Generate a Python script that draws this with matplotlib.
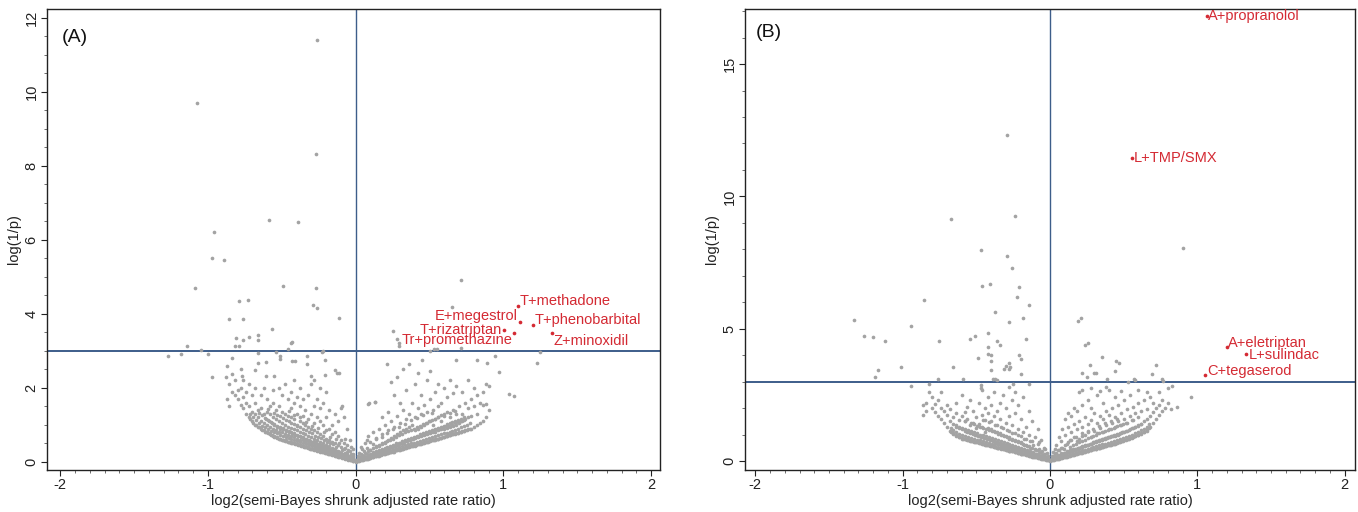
import numpy as np
import matplotlib
matplotlib.use("Agg")
import matplotlib.pyplot as plt
from matplotlib.ticker import MultipleLocator

plt.rcParams['font.family'] = ['Liberation Sans', 'DejaVu Sans']

# ---------------- Panel A data ----------------
a_gray_columns = [
    (-0.02, [0.02, 0.05, 0.1, 0.2, 0.35]), (-0.03, [0.04, 0.08]),
    (-0.04, [0.05, 0.1, 0.15, 0.3, 0.6]), (-0.05, [0.06, 0.12]),
    (-0.06, [0.07, 0.12, 0.2, 0.28, 0.45, 0.9]), (-0.07, [0.09, 0.16]),
    (-0.08, [0.1, 0.15, 0.22, 0.35, 0.5, 1.2]), (-0.09, [0.11, 0.2, 1.52]),
    (-0.10, [0.12, 0.18, 0.25, 0.4, 0.6, 1.45]), (-0.11, [0.13, 0.22, 2.41]),
    (-0.12, [0.14, 0.2, 0.3, 0.45, 0.7, 1.1]), (-0.13, [0.16, 0.27, 2.41]),
    (-0.14, [0.17, 0.23, 0.35, 0.5, 0.8, 1.3, 2.48]), (-0.15, [0.18, 0.3]),
    (-0.16, [0.19, 0.26, 0.38, 0.55, 0.75, 1.0]), (-0.17, [0.2, 0.33]),
    (-0.18, [0.21, 0.3, 0.42, 0.6, 0.9, 1.4]), (-0.19, [0.22, 0.36]),
    (-0.20, [0.23, 0.32, 0.45, 0.62, 0.85, 1.2, 1.9]), (-0.21, [0.25, 0.4, 2.76, 2.35]),
    (-0.22, [0.26, 0.35, 0.5, 0.7, 1.0, 1.6, 3.0]), (-0.23, [0.27, 0.42, 2.98]),
    (-0.24, [0.28, 0.38, 0.55, 0.75, 1.1, 1.45, 2.0]), (-0.25, [0.29, 0.46]),
    (-0.26, [0.3, 0.42, 0.6, 0.8, 1.2, 1.7]), (-0.27, [0.32, 0.5]),
    (-0.28, [0.33, 0.45, 0.62, 0.85, 1.05, 1.5, 2.2]), (-0.29, [0.34, 0.53]),
    (-0.30, [0.35, 0.48, 0.66, 0.9, 1.3, 2.1, 2.33]), (-0.31, [0.36, 0.56]),
    (-0.32, [0.37, 0.5, 0.7, 0.95, 1.15, 1.8]), (-0.33, [0.39, 0.6, 2.85, 2.64]),
    (-0.34, [0.4, 0.55, 0.75, 1.0, 1.4]), (-0.35, [0.41, 0.62]),
    (-0.36, [0.42, 0.58, 0.78, 1.05, 1.25, 1.7]), (-0.37, [0.44, 0.66]),
    (-0.38, [0.45, 0.6, 0.82, 1.1, 1.5, 2.0]), (-0.39, [0.46, 0.7]),
    (-0.40, [0.47, 0.63, 0.85, 1.0, 1.3, 1.75]), (-0.41, [0.49, 0.72, 2.72]),
    (-0.42, [0.5, 0.66, 0.9, 1.15, 1.6, 2.2]), (-0.43, [0.51, 0.76, 2.73, 3.23]),
    (-0.44, [0.52, 0.7, 0.92, 1.2, 1.45, 1.9]), (-0.45, [0.54, 0.8]),
    (-0.46, [0.55, 0.72, 0.95, 1.25, 1.7, 3.05]), (-0.47, [0.56, 0.84]),
    (-0.48, [0.57, 0.75, 1.0, 1.3, 2.1]), (-0.49, [0.59, 0.88]),
    (-0.50, [0.6, 0.8, 1.05, 1.35, 1.8]), (-0.51, [0.61, 0.9, 2.85, 2.79]),
    (-0.52, [0.62, 0.82, 1.1, 1.5, 2.0]), (-0.53, [0.64, 0.95]),
    (-0.54, [0.66, 0.86, 1.15, 1.4, 2.98]), (-0.55, [0.68, 1.0, 2.32]),
    (-0.56, [0.7, 0.9, 1.2, 1.6, 1.95]), (-0.57, [0.72, 1.05]),
    (-0.58, [0.74, 0.95, 1.3, 1.5]), (-0.59, [0.77, 1.1]),
    (-0.60, [0.8, 1.0, 1.35, 1.7]), (-0.61, [0.82, 1.15, 2.69, 2.32]),
    (-0.62, [0.85, 1.05, 1.3, 2.0]), (-0.64, [0.9, 1.1, 1.45, 1.8]),
    (-0.66, [0.95, 1.2, 1.4, 2.94, 2.68]), (-0.68, [1.0, 1.3, 1.6, 2.0, 2.47]),
    (-0.70, [1.1, 1.35, 1.8]), (-0.72, [1.2, 1.5, 2.1]),
    (-0.74, [1.3, 1.6, 1.9]), (-0.76, [1.45, 1.75, 2.2]), (-0.77, [2.32]),
    (-0.78, [1.55, 2.0, 2.51]), (-0.80, [1.7, 1.95]), (-0.82, [1.8, 2.2]),
    (-0.84, [1.9, 2.82, 2.38]), (-0.86, [2.1, 1.5]), (-0.87, [1.69, 2.58]),
    (-0.88, [2.3]), (-0.97, [2.29]), (-1.00, [2.92]), (-1.05, [3.03]),
    (-1.14, [3.14]), (-1.18, [2.91]), (-1.27, [2.85]),
    (0.0, [0.0, 0.03, 0.06]),
    (0.02, [0.02, 0.06, 0.12, 0.25]), (0.03, [0.04, 0.08]),
    (0.04, [0.05, 0.1, 0.18, 0.35]), (0.05, [0.06, 0.11]),
    (0.06, [0.07, 0.13, 0.25, 0.5]), (0.07, [0.08, 0.14]),
    (0.08, [0.09, 0.16, 0.3, 0.7, 1.56]), (0.09, [0.1, 0.17, 1.59]),
    (0.10, [0.11, 0.19, 0.33, 0.55]), (0.11, [0.13, 0.21]),
    (0.12, [0.13, 0.22, 0.38, 0.8]), (0.13, [0.15, 0.24, 1.61, 1.63]),
    (0.14, [0.15, 0.25, 0.42, 0.65]), (0.15, [0.17, 0.27]),
    (0.16, [0.17, 0.27, 0.45, 0.9]), (0.17, [0.19, 0.3]),
    (0.18, [0.2, 0.3, 0.5, 0.75, 1.2]), (0.19, [0.21, 0.33]),
    (0.20, [0.22, 0.33, 0.55, 1.0]), (0.21, [0.24, 0.36, 2.64]),
    (0.22, [0.24, 0.36, 0.6, 0.85, 1.35]), (0.23, [0.26, 0.39]),
    (0.24, [0.26, 0.4, 0.65, 1.1, 2.17]), (0.25, [0.28, 0.42, 3.53]),
    (0.26, [0.28, 0.43, 0.7, 0.95, 1.8]), (0.27, [0.31, 0.45]),
    (0.28, [0.31, 0.46, 0.75, 1.25, 2.3, 3.31]), (0.29, [0.33, 0.48, 3.22, 3.13]),
    (0.30, [0.33, 0.5, 0.8, 1.05, 1.6]), (0.31, [0.35, 0.51]),
    (0.32, [0.35, 0.52, 0.85, 1.4, 2.5]), (0.33, [0.37, 0.54]),
    (0.34, [0.38, 0.56, 0.9, 1.15, 1.95]), (0.35, [0.4, 0.57]),
    (0.36, [0.4, 0.58, 0.95, 1.3, 2.64]), (0.37, [0.42, 0.6]),
    (0.38, [0.42, 0.62, 1.0, 1.6]), (0.39, [0.44, 0.63]),
    (0.40, [0.44, 0.65, 0.85, 1.2, 2.1]), (0.41, [0.46, 0.66]),
    (0.42, [0.47, 0.68, 0.9, 1.45, 2.4]), (0.43, [0.49, 0.7]),
    (0.44, [0.49, 0.7, 0.95, 1.3, 1.8]), (0.45, [0.51, 0.73, 2.76]),
    (0.46, [0.51, 0.72, 1.0, 1.55]), (0.47, [0.53, 0.76]),
    (0.48, [0.53, 0.75, 1.05, 1.35, 2.2]), (0.49, [0.55, 0.79]),
    (0.50, [0.56, 0.78, 1.1, 1.7, 2.45, 2.99]), (0.51, [0.58, 0.82]),
    (0.52, [0.58, 0.8, 1.0, 1.4]), (0.53, [0.6, 0.85, 3.05]),
    (0.54, [0.6, 0.82, 1.15, 1.9]), (0.55, [0.62, 0.88, 3.04]),
    (0.56, [0.63, 0.85, 1.2, 1.5, 2.1]), (0.57, [0.65, 0.9]),
    (0.58, [0.65, 0.88, 1.1, 1.6]), (0.59, [0.67, 0.93]),
    (0.60, [0.67, 0.9, 1.25, 2.0]), (0.61, [0.69, 0.96]),
    (0.62, [0.7, 0.92, 1.35, 1.75]), (0.63, [0.72, 0.98]),
    (0.64, [0.72, 0.95, 1.2, 2.2]), (0.65, [0.74, 1.0, 4.18]),
    (0.66, [0.75, 0.97, 1.4, 1.85]), (0.67, [0.76, 1.05]),
    (0.68, [0.77, 1.0, 1.3, 2.05, 2.74]), (0.69, [0.79, 1.08]),
    (0.70, [0.8, 1.05, 1.5]), (0.71, [0.82, 1.1, 4.92, 3.08]),
    (0.72, [0.83, 1.1, 1.3, 1.9]), (0.73, [0.84, 1.12]),
    (0.74, [0.85, 1.15, 1.6]), (0.76, [0.88, 1.2, 1.45, 2.2]),
    (0.78, [0.9, 1.25, 1.7]), (0.80, [0.95, 1.5, 2.0]),
    (0.82, [1.0, 1.3, 1.8, 2.76]), (0.84, [1.05, 1.6]),
    (0.86, [1.1, 1.55, 1.9]), (0.88, [1.2, 1.57, 2.1]), (0.89, [2.67]),
    (0.90, [1.4, 2.05]), (0.94, [2.85]), (0.97, [2.42]),
    (1.04, [1.83]), (1.07, [1.79]), (1.23, [2.68]), (1.25, [2.96]),
]
a_dense_columns = [
    (-0.015, [0.03, 0.09, 0.16]), (-0.035, [0.06, 0.13, 0.22, 0.41]),
    (-0.055, [0.08, 0.1, 0.17, 0.31]), (-0.075, [0.1, 0.13, 0.24, 0.38, 0.62]),
    (-0.095, [0.12, 0.16, 0.21, 0.33]), (-0.115, [0.15, 0.19, 0.27, 0.52]),
    (-0.135, [0.17, 0.21, 0.3, 0.41, 0.63]), (-0.155, [0.2, 0.24, 0.34, 0.47]),
    (-0.175, [0.22, 0.27, 0.36, 0.51, 0.68]), (-0.195, [0.25, 0.29, 0.39, 0.55]),
    (-0.215, [0.27, 0.31, 0.43, 0.58, 0.81]), (-0.235, [0.29, 0.34, 0.46, 0.64]),
    (-0.255, [0.31, 0.37, 0.48, 0.67, 0.92]), (-0.275, [0.34, 0.4, 0.53, 0.71]),
    (-0.295, [0.36, 0.43, 0.55, 0.77, 0.98]), (-0.315, [0.38, 0.45, 0.6, 0.8]),
    (-0.335, [0.41, 0.48, 0.63, 0.86, 1.08]), (-0.355, [0.43, 0.5, 0.66, 0.88]),
    (-0.375, [0.46, 0.53, 0.7, 0.93, 1.2]), (-0.395, [0.48, 0.56, 0.72, 0.97]),
    (-0.415, [0.5, 0.59, 0.77, 1.02, 1.27]), (-0.435, [0.53, 0.61, 0.8, 1.05]),
    (-0.455, [0.55, 0.64, 0.83, 1.1, 1.38]), (-0.475, [0.58, 0.67, 0.87, 1.13]),
    (-0.495, [0.6, 0.7, 0.91, 1.19]), (-0.515, [0.63, 0.73, 0.94, 1.23]),
    (-0.535, [0.66, 0.77, 0.98, 1.28]), (-0.555, [0.69, 0.8, 1.03, 1.33]),
    (-0.575, [0.73, 0.84, 1.08]), (-0.595, [0.77, 0.88, 1.13, 1.42]),
    (-0.615, [0.82, 0.93, 1.19]), (-0.635, [0.87, 0.98, 1.26]),
    (-0.655, [0.93, 1.05, 1.31]), (-0.675, [0.99, 1.12]),
    (-0.695, [1.06, 1.22]), (-0.715, [1.15, 1.3]),
    (0.015, [0.03, 0.08, 0.15]), (0.035, [0.05, 0.12, 0.21, 0.4]),
    (0.055, [0.07, 0.1, 0.16, 0.29]), (0.075, [0.09, 0.12, 0.22, 0.37, 0.58]),
    (0.095, [0.11, 0.15, 0.2, 0.31]), (0.115, [0.14, 0.18, 0.26, 0.48]),
    (0.135, [0.16, 0.2, 0.29, 0.4, 0.61]), (0.155, [0.18, 0.23, 0.32, 0.44]),
    (0.175, [0.2, 0.25, 0.35, 0.49, 0.66]), (0.195, [0.23, 0.27, 0.37, 0.52]),
    (0.215, [0.25, 0.29, 0.41, 0.56, 0.77]), (0.235, [0.27, 0.32, 0.44, 0.6]),
    (0.255, [0.29, 0.35, 0.46, 0.63, 0.88]), (0.275, [0.31, 0.37, 0.5, 0.68]),
    (0.295, [0.34, 0.4, 0.52, 0.72, 0.93]), (0.315, [0.36, 0.42, 0.56, 0.76]),
    (0.335, [0.38, 0.45, 0.59, 0.8, 1.02]), (0.355, [0.4, 0.47, 0.62, 0.83]),
    (0.375, [0.43, 0.5, 0.65, 0.87, 1.12]), (0.395, [0.45, 0.52, 0.67, 0.9]),
    (0.415, [0.47, 0.55, 0.71, 0.95, 1.18]), (0.435, [0.49, 0.57, 0.74, 0.98]),
    (0.455, [0.52, 0.6, 0.77, 1.03, 1.26]), (0.475, [0.54, 0.62, 0.8, 1.06]),
    (0.495, [0.56, 0.65, 0.83, 1.1]), (0.515, [0.58, 0.67, 0.86, 1.13, 1.32]),
    (0.535, [0.61, 0.7, 0.89, 1.17]), (0.555, [0.63, 0.72, 0.92, 1.22]),
    (0.575, [0.65, 0.74, 0.95, 1.26]), (0.595, [0.67, 0.77, 0.98, 1.29]),
    (0.615, [0.7, 0.79, 1.01]), (0.635, [0.72, 0.82, 1.04, 1.33]),
    (0.655, [0.74, 0.84, 1.07]), (0.675, [0.77, 0.87, 1.1, 1.38]),
    (0.695, [0.79, 0.9, 1.13]), (0.715, [0.82, 0.93, 1.17]),
    (0.735, [0.84, 0.96, 1.21]), (0.755, [0.87, 0.99]), (0.775, [0.9, 1.05]),
]
a_outliers = [
    (-0.264, 11.4), (-1.075, 9.7), (-0.27, 8.33), (-0.59, 6.55), (-0.39, 6.48),
    (-0.96, 6.2), (-0.97, 5.52), (-0.89, 5.45), (-0.49, 4.76), (-0.27, 4.69),
    (-1.09, 4.7), (-0.73, 4.38), (-0.79, 4.36), (-0.29, 4.25), (-0.26, 4.15),
    (-0.11, 3.88), (-0.86, 3.85), (-0.76, 3.87), (-0.57, 3.6), (-0.66, 3.42),
    (-0.81, 3.36), (-0.72, 3.38), (-0.76, 3.3), (-0.66, 3.3), (-0.44, 3.22),
    (-0.82, 3.12), (-0.79, 3.13),
]
a_hl_labels = ["T+methadone", "E+megestrol", "T+phenobarbital",
               "T+rizatriptan", "Tr+promethazine", "Z+minoxidil"]
a_hl_x = [1.10, 1.11, 1.20, 1.005, 1.07, 1.33]
a_hl_y = [4.22, 3.77, 3.69, 3.57, 3.49, 3.48]

# ---------------- Panel B data ----------------
b_gray_columns = [
    (-0.01, [0.02, 0.05]), (-0.02, [0.03, 0.07, 0.15, 0.3]), (-0.03, [0.05, 0.1]),
    (-0.04, [0.06, 0.12, 0.25, 0.5]), (-0.05, [0.08, 0.15]),
    (-0.06, [0.09, 0.18, 0.35, 0.8]), (-0.07, [0.1, 0.2]),
    (-0.08, [0.12, 0.22, 0.4, 0.65, 1.2]), (-0.09, [0.14, 0.25]),
    (-0.10, [0.15, 0.26, 0.45, 0.9]), (-0.11, [0.16, 0.28]),
    (-0.12, [0.17, 0.3, 0.5, 0.75, 1.5]), (-0.13, [0.19, 0.32]),
    (-0.14, [0.2, 0.33, 0.55, 1.0, 1.9, 2.9]), (-0.15, [0.22, 0.35]),
    (-0.16, [0.23, 0.36, 0.6, 0.85, 1.3, 4.62]), (-0.17, [0.25, 0.38]),
    (-0.18, [0.26, 0.4, 0.65, 1.1, 2.4, 5.4]), (-0.19, [0.27, 0.42]),
    (-0.20, [0.28, 0.43, 0.7, 0.95, 1.6, 3.86, 3.29]), (-0.21, [0.3, 0.45, 4.0]),
    (-0.22, [0.31, 0.46, 0.75, 1.2, 2.1]), (-0.23, [0.33, 0.48]),
    (-0.24, [0.34, 0.5, 0.8, 1.05, 1.8, 2.6]), (-0.25, [0.36, 0.52, 2.92]),
    (-0.26, [0.37, 0.53, 0.85, 1.35, 2.3]), (-0.27, [0.38, 0.55, 3.57]),
    (-0.28, [0.39, 0.56, 0.9, 1.15, 1.7, 2.8, 3.47]), (-0.29, [0.41, 0.58]),
    (-0.30, [0.42, 0.6, 0.95, 1.45, 2.0, 3.6]), (-0.31, [0.44, 0.62, 3.47]),
    (-0.32, [0.45, 0.63, 1.0, 1.25, 2.5]), (-0.33, [0.47, 0.65]),
    (-0.34, [0.48, 0.67, 1.05, 1.6, 2.2, 4.39]), (-0.35, [0.49, 0.69]),
    (-0.36, [0.5, 0.7, 1.1, 1.35, 1.9, 4.54, 3.05]), (-0.37, [0.52, 0.72, 3.1]),
    (-0.38, [0.53, 0.74, 1.15, 1.7, 2.6]), (-0.39, [0.55, 0.76, 3.08]),
    (-0.40, [0.56, 0.78, 1.2, 1.5, 2.1, 3.78, 3.43]), (-0.41, [0.58, 0.8]),
    (-0.42, [0.59, 0.82, 1.25, 1.8, 2.4, 4.31, 4.06]), (-0.43, [0.61, 0.84]),
    (-0.44, [0.62, 0.86, 1.1, 1.55, 2.0]), (-0.45, [0.64, 0.88]),
    (-0.46, [0.65, 0.9, 1.3, 1.75, 2.7]), (-0.47, [0.67, 0.92, 2.88, 2.75]),
    (-0.48, [0.68, 0.94, 1.4, 2.2]), (-0.49, [0.7, 0.96, 3.88]),
    (-0.50, [0.71, 0.98, 1.25, 1.65]), (-0.51, [0.73, 1.0, 4.72]),
    (-0.52, [0.74, 1.02, 1.45, 1.9]), (-0.53, [0.76, 1.04]),
    (-0.54, [0.77, 1.06, 1.35, 2.3, 4.6]), (-0.55, [0.79, 1.08]),
    (-0.56, [0.8, 1.1, 1.6, 2.05]), (-0.57, [0.82, 1.12]),
    (-0.58, [0.83, 1.15, 1.5, 1.85]), (-0.59, [0.85, 3.11]),
    (-0.60, [0.87, 1.2, 1.7, 2.5]), (-0.62, [0.92, 1.25, 1.55]),
    (-0.64, [0.98, 1.3, 1.8, 2.2]), (-0.66, [1.05, 1.4, 1.65, 3.56]),
    (-0.68, [1.15, 1.5, 1.95]), (-0.70, [1.3, 1.75, 2.1]),
    (-0.72, [1.45, 1.9]), (-0.74, [1.6, 2.0, 2.6]), (-0.76, [1.7, 2.3, 3.11]),
    (-0.78, [1.85, 2.15]), (-0.80, [2.0, 2.4]), (-0.82, [2.6, 2.92]),
    (-0.84, [1.9, 2.2]), (-0.86, [1.75, 2.1]), (-0.94, [2.83]),
    (0.0, [0.0, 0.03]), (0.01, [0.02, 0.05]), (0.02, [0.03, 0.08, 0.18, 0.35]),
    (0.03, [0.05, 0.11]), (0.04, [0.06, 0.14, 0.3, 0.6]), (0.05, [0.08, 0.17]),
    (0.06, [0.09, 0.2, 0.4, 0.9]), (0.07, [0.11, 0.22]),
    (0.08, [0.12, 0.25, 0.5, 1.2]), (0.09, [0.14, 0.28]),
    (0.10, [0.15, 0.3, 0.6, 1.0, 1.6]), (0.11, [0.17, 0.32]),
    (0.12, [0.18, 0.34, 0.7, 1.3, 1.8]), (0.13, [0.2, 0.36]),
    (0.14, [0.21, 0.38, 0.8, 1.1, 1.7]), (0.15, [0.23, 0.4]),
    (0.16, [0.24, 0.42, 0.9, 1.4, 2.0]), (0.17, [0.26, 0.44]),
    (0.18, [0.27, 0.46, 0.75, 1.2, 1.9]), (0.19, [0.29, 0.48, 5.28]),
    (0.20, [0.3, 0.5, 0.85, 1.5, 2.6]), (0.21, [0.32, 0.52, 5.39]),
    (0.22, [0.33, 0.54, 0.95, 1.3, 2.1, 3.33, 2.7]), (0.23, [0.35, 0.56]),
    (0.24, [0.36, 0.58, 1.0, 1.65, 4.38]), (0.25, [0.38, 0.6, 3.16]),
    (0.26, [0.39, 0.62, 1.1, 1.4, 2.3, 4.47]), (0.27, [0.41, 0.64, 3.63]),
    (0.28, [0.42, 0.66, 0.9, 1.55, 2.0, 2.75]), (0.29, [0.44, 0.68]),
    (0.30, [0.45, 0.7, 1.15, 1.8, 3.32]), (0.31, [0.47, 0.72, 3.33]),
    (0.32, [0.48, 0.74, 1.05, 1.45, 2.5]), (0.33, [0.5, 0.76]),
    (0.34, [0.51, 0.78, 1.25, 1.7, 2.65]), (0.35, [0.53, 0.8, 3.92]),
    (0.36, [0.54, 0.82, 1.1, 1.6, 2.2]), (0.37, [0.56, 0.84]),
    (0.38, [0.57, 0.86, 1.35, 1.9, 2.8]), (0.39, [0.59, 0.88, 3.1]),
    (0.40, [0.6, 0.9, 1.2, 1.75, 2.7]), (0.41, [0.62, 0.92]),
    (0.42, [0.63, 0.93, 1.45, 2.0]), (0.43, [0.65, 0.95]),
    (0.44, [0.66, 0.96, 1.3, 1.65, 2.4, 3.41]), (0.45, [0.68, 0.98, 3.79]),
    (0.46, [0.7, 1.0, 1.5, 2.1]), (0.47, [0.72, 1.02, 3.72]),
    (0.48, [0.74, 1.05, 1.35, 1.8, 2.65]), (0.49, [0.76, 1.08]),
    (0.50, [0.78, 1.1, 1.6, 2.3]), (0.52, [0.82, 1.15, 1.45, 1.95]),
    (0.53, [0.84, 3.0]), (0.54, [0.86, 1.2, 1.7, 2.5]),
    (0.56, [0.9, 1.25, 1.55, 2.05]), (0.57, [3.1]), (0.58, [0.95, 1.3, 1.8, 3.06]),
    (0.60, [1.0, 1.35, 1.65, 2.2, 2.7]), (0.62, [1.05, 1.4, 1.9]),
    (0.64, [1.1, 1.5, 2.3]), (0.66, [1.2, 1.6, 1.95, 2.6]),
    (0.68, [1.3, 1.7, 2.4]), (0.69, [3.29]), (0.70, [1.45, 1.85, 2.2]),
    (0.72, [1.6, 2.0, 3.64]), (0.74, [1.75, 2.1, 2.6]), (0.76, [1.9, 2.3, 3.1]),
    (0.77, [3.02]), (0.78, [2.0]), (0.80, [2.2, 2.75]), (0.82, [1.95]),
    (0.83, [2.83]), (0.86, [2.05]), (0.90, [8.03]), (0.96, [2.43]),
]
b_dense_columns = [
    (-0.015, [0.03, 0.09, 0.19]), (-0.035, [0.06, 0.14, 0.27, 0.45]),
    (-0.055, [0.09, 0.13, 0.21, 0.38]), (-0.075, [0.11, 0.16, 0.29, 0.47, 0.72]),
    (-0.095, [0.14, 0.2, 0.27, 0.41]), (-0.115, [0.17, 0.23, 0.33, 0.6]),
    (-0.135, [0.2, 0.26, 0.37, 0.5, 0.74]), (-0.155, [0.23, 0.29, 0.41, 0.56]),
    (-0.175, [0.26, 0.32, 0.44, 0.62, 0.83]), (-0.195, [0.28, 0.35, 0.48, 0.67]),
    (-0.215, [0.31, 0.38, 0.52, 0.7, 0.98]), (-0.235, [0.34, 0.41, 0.56, 0.76]),
    (-0.255, [0.37, 0.45, 0.59, 0.81, 1.07]), (-0.275, [0.39, 0.48, 0.63, 0.85]),
    (-0.295, [0.42, 0.51, 0.67, 0.9, 1.16]), (-0.315, [0.45, 0.54, 0.71, 0.94]),
    (-0.335, [0.48, 0.57, 0.74, 0.99, 1.28]), (-0.355, [0.5, 0.6, 0.78, 1.03]),
    (-0.375, [0.53, 0.63, 0.82, 1.08, 1.37]), (-0.395, [0.56, 0.66, 0.86, 1.12]),
    (-0.415, [0.59, 0.69, 0.9, 1.17, 1.46]), (-0.435, [0.62, 0.72, 0.93, 1.21]),
    (-0.455, [0.64, 0.75, 0.97, 1.26, 1.55]), (-0.475, [0.67, 0.78, 1.0, 1.3]),
    (-0.495, [0.7, 0.81, 1.04, 1.34]), (-0.515, [0.73, 0.84, 1.08, 1.39]),
    (-0.535, [0.76, 0.87, 1.12, 1.43]), (-0.555, [0.79, 0.9, 1.16]),
    (-0.575, [0.82, 0.94, 1.2, 1.52]), (-0.595, [0.85, 0.98, 1.25]),
    (-0.615, [0.9, 1.03, 1.3]), (-0.635, [0.95, 1.09, 1.37]),
    (-0.655, [1.01, 1.16]), (-0.675, [1.1, 1.25]),
    (0.015, [0.03, 0.1, 0.2]), (0.035, [0.06, 0.15, 0.28, 0.47]),
    (0.055, [0.09, 0.14, 0.23, 0.4]), (0.075, [0.12, 0.17, 0.31, 0.5, 0.76]),
    (0.095, [0.14, 0.21, 0.29, 0.44]), (0.115, [0.17, 0.24, 0.36, 0.64]),
    (0.135, [0.2, 0.27, 0.4, 0.54, 0.8]), (0.155, [0.23, 0.3, 0.44, 0.6]),
    (0.175, [0.26, 0.34, 0.47, 0.66, 0.9]), (0.195, [0.29, 0.37, 0.51, 0.71]),
    (0.215, [0.32, 0.4, 0.55, 0.75, 1.04]), (0.235, [0.35, 0.43, 0.59, 0.8]),
    (0.255, [0.38, 0.47, 0.62, 0.86, 1.13]), (0.275, [0.41, 0.5, 0.66, 0.9]),
    (0.295, [0.44, 0.53, 0.7, 0.95, 1.22]), (0.315, [0.47, 0.56, 0.74, 0.99]),
    (0.335, [0.5, 0.6, 0.78, 1.04, 1.33]), (0.355, [0.53, 0.63, 0.82, 1.08]),
    (0.375, [0.56, 0.66, 0.86, 1.13, 1.42]), (0.395, [0.59, 0.69, 0.89, 1.17]),
    (0.415, [0.62, 0.72, 0.93, 1.22, 1.5]), (0.435, [0.65, 0.75, 0.97, 1.26]),
    (0.455, [0.68, 0.79, 1.01, 1.31, 1.6]), (0.475, [0.72, 0.83, 1.05, 1.35]),
    (0.495, [0.76, 0.87, 1.1, 1.4]), (0.515, [0.8, 0.91, 1.14, 1.45]),
    (0.535, [0.84, 0.95, 1.19]), (0.555, [0.88, 1.0, 1.24, 1.55]),
    (0.575, [0.93, 1.05, 1.29]), (0.595, [0.98, 1.1, 1.34]),
    (0.615, [1.03, 1.16, 1.4]), (0.635, [1.08, 1.22]),
    (0.655, [1.15, 1.3]), (0.675, [1.25, 1.4]),
]
b_outliers = [
    (-0.293, 12.32), (-0.24, 9.25), (-0.67, 9.13), (-0.47, 7.97), (-0.29, 7.74),
    (-0.26, 7.30), (-0.46, 6.62), (-0.41, 6.67), (-0.21, 6.56), (-0.225, 6.2),
    (-0.855, 6.07), (-0.14, 5.91), (-0.375, 5.64), (-1.33, 5.32), (-0.28, 5.25),
    (-0.94, 5.11), (-0.42, 4.85), (-1.26, 4.71), (-1.20, 4.67), (-1.12, 4.55),
    (-0.75, 4.53), (-0.40, 4.02), (-1.01, 3.54), (-1.17, 3.45), (-1.19, 3.19),
    (-0.28, 3.72),
]
b_hl_labels = ["A+propranolol", "L+TMP/SMX", "A+eletriptan", "L+sulindac", "C+tegaserod"]
b_hl_x = [1.063, 0.556, 1.198, 1.333, 1.053]
b_hl_y = [16.8, 11.44, 4.32, 4.03, 3.25]

a_label_offsets = [(1.2, 3.6, 'left'), (-1.5, 4.3, 'right'), (1.0, 3.8, 'left'),
                   (-1.5, 0.0, 'right'), (-1.0, -5.3, 'right'), (1.0, -5.5, 'left')]
b_label_offsets = [(1.2, 0.5, 'left'), (1.5, 0.0, 'left'), (1.4, 2.9, 'left'),
                   (1.4, -0.5, 'left'), (1.7, 3.1, 'left')]

GRAY = '#a3a3a3'
RED = '#d42a33'
LINE = '#3d5d8a'


def expand(column_sets, extra):
    xs, ys = [], []
    for columns in column_sets:
        for x, yl in columns:
            for y in yl:
                xs.append(x)
                ys.append(y)
    for x, y in extra:
        xs.append(x)
        ys.append(y)
    return np.array(xs), np.array(ys)


fig = plt.figure(figsize=(13.58, 5.12), dpi=100)
axA = fig.add_axes([47 / 1358, 42 / 512, 613 / 1358, 461 / 512])
axB = fig.add_axes([745 / 1358, 42 / 512, 610 / 1358, 461 / 512])


def style(ax, xlim, ylim, ymajor, yminor, panel, ptx, pty):
    ax.set_xlim(*xlim)
    ax.set_ylim(*ylim)
    ax.axhline(3, color=LINE, lw=1.4, zorder=1)
    ax.axvline(0, color=LINE, lw=1.0, zorder=1)
    ax.xaxis.set_major_locator(MultipleLocator(1))
    ax.xaxis.set_minor_locator(MultipleLocator(0.1))
    ax.yaxis.set_major_locator(MultipleLocator(ymajor))
    ax.yaxis.set_minor_locator(MultipleLocator(yminor))
    ax.tick_params(axis='both', which='major', direction='out', length=4,
                   width=0.8, labelsize=10.5, pad=2, colors='#222222')
    ax.tick_params(axis='both', which='minor', direction='out', length=2,
                   width=0.6, colors='#555555')
    ax.tick_params(axis='y', labelrotation=90)
    for lab in ax.get_yticklabels():
        lab.set_va('center')
    ax.set_xticklabels([('-%d' % abs(int(t))) if t < 0 else '%d' % int(t)
                        for t in ax.get_xticks()])
    for s in ax.spines.values():
        s.set_linewidth(1.0)
        s.set_color('#222222')
    ax.set_xlabel('log2(semi-Bayes shrunk adjusted rate ratio)', fontsize=10.5,
                  labelpad=1, color='#222222')
    ax.set_ylabel('log(1/p)', fontsize=10.5, labelpad=3, color='#222222')
    ax.text(ptx, pty, panel, transform=ax.transAxes, fontsize=14,
            ha='left', va='center', color='#111111')


ax_x, ax_y = expand([a_gray_columns, a_dense_columns], a_outliers)
axA.scatter(ax_x, ax_y, s=7, color=GRAY, linewidths=0, zorder=2)
axA.scatter(a_hl_x, a_hl_y, s=7, color=RED, linewidths=0, zorder=3)
for lab, x, y, (dx, dy, ha) in zip(a_hl_labels, a_hl_x, a_hl_y, a_label_offsets):
    axA.annotate(lab, (x, y), xytext=(dx, dy), textcoords='offset points',
                 ha=ha, va='center', color=RED, fontsize=10.5, zorder=4)
style(axA, (-2.09, 2.06), (-0.22, 12.24), 2, 0.5, '(A)', 0.024, 0.939)

bx_x, bx_y = expand([b_gray_columns, b_dense_columns], b_outliers)
axB.scatter(bx_x, bx_y, s=7, color=GRAY, linewidths=0, zorder=2)
axB.scatter(b_hl_x, b_hl_y, s=7, color=RED, linewidths=0, zorder=3)
for lab, x, y, (dx, dy, ha) in zip(b_hl_labels, b_hl_x, b_hl_y, b_label_offsets):
    axB.annotate(lab, (x, y), xytext=(dx, dy), textcoords='offset points',
                 ha=ha, va='center', color=RED, fontsize=10.5, zorder=4)
style(axB, (-2.07, 2.07), (-0.34, 17.08), 5, 1, '(B)', 0.018, 0.948)

fig.savefig('out.png', dpi=100)
